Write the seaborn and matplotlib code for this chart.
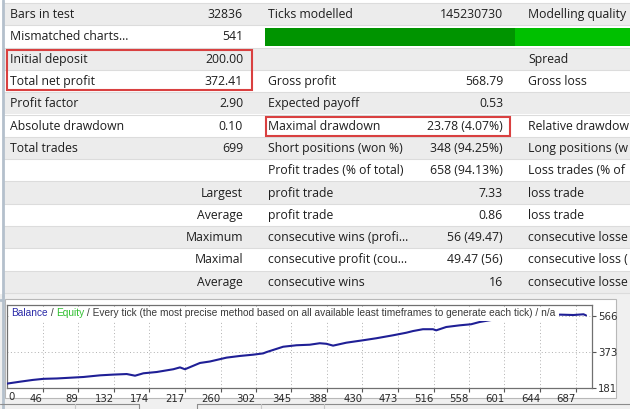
import matplotlib
matplotlib.use("Agg")
import matplotlib.pyplot as plt
from matplotlib.patches import Rectangle
import seaborn as sns
import pandas as pd

# ---------------- data ----------------
col1_labels = ["Bars in test", "Mismatched charts...", "Initial deposit", "Total net profit",
               "Profit factor", "Absolute drawdown", "Total trades", "", "Largest", "Average",
               "Maximum", "Maximal", "Average"]
col1_values = ["32836", "541", "200.00", "372.41", "2.90", "0.10", "699", "", "", "", "", "", ""]
col2_labels = ["Ticks modelled", "", "", "Gross profit", "Expected payoff", "Maximal drawdown",
               "Short positions (won %)", "Profit trades (% of total)", "profit trade", "profit trade",
               "consecutive wins (profi...", "consecutive profit (cou...", "consecutive wins"]
col2_values = ["145230730", "", "", "568.79", "0.53", "23.78 (4.07%)", "348 (94.25%)",
               "658 (94.13%)", "7.33", "0.86", "56 (49.47)", "49.47 (56)", "16"]
col3_labels = ["Modelling quality", "", "Spread", "Gross loss", "", "Relative drawdow",
               "Long positions (w", "Loss trades (% of", "loss trade", "loss trade",
               "consecutive losse", "consecutive loss (", "consecutive losse"]

trades = [0, 18, 34, 47, 63, 75, 95, 115, 131, 147, 157, 167, 183, 203, 211, 217, 235, 247,
          267, 283, 299, 311, 315, 335, 351, 367, 379, 387, 395, 411, 431, 447, 467, 483, 491,
          503, 515, 519, 531, 547, 561, 571, 585, 603, 623, 643, 668, 684, 696, 699]
balance = [200, 212, 222, 228, 230, 233, 238, 247, 251, 254, 245, 258, 265, 280, 290, 280, 314,
           322, 343, 352, 359, 366, 373, 402, 410, 413, 421, 418, 408, 424, 437, 448, 464, 478,
           487, 497, 497, 491, 509, 518, 524, 536, 547, 556, 563, 570, 576, 574, 578, 572]

x_ticks = [46, 89, 132, 174, 217, 260, 302, 345, 388, 430, 473, 516, 558, 601, 644, 687]
y_ticks = [181, 373, 566]

title_parts = ["Balance", " / ", "Equity",
               " / Every tick (the most precise method based on all available least timeframes to generate each tick) / n/a"]

# ---------------- style ----------------
sns.set_theme(style="white")
plt.rcParams["font.family"] = ["Open Sans", "DejaVu Sans"]

W, H = 630, 409
fig = plt.figure(figsize=(W / 100, H / 100), dpi=100)
fig.patch.set_facecolor("#f0f0f0")

bg = fig.add_axes([0, 0, 1, 1])
bg.set_xlim(0, W)
bg.set_ylim(H, 0)
bg.axis("off")

ROW0, RH = 3.0, 22.3
GRAY, WHITE = "#ececec", "#ffffff"
TXT = "#1e1e1e"
FS = 8.85

# table rows
bg.add_patch(Rectangle((0, 0), W, 294, facecolor="#ffffff", edgecolor="none", zorder=0))
for i in range(13):
    top = ROW0 + i * RH
    bg.add_patch(Rectangle((4, top), W - 4, RH, facecolor=GRAY if i % 2 == 0 else WHITE,
                           edgecolor="none", zorder=1))
    bg.plot([4, W], [top, top], color="#dcdcdc", lw=0.8, zorder=2)
bg.plot([4, W], [ROW0 + 13 * RH, ROW0 + 13 * RH], color="#dcdcdc", lw=0.8, zorder=2)
bg.plot([2.5, 2.5], [0, 296], color="#b4c0cc", lw=2, zorder=2)

# progress bar
bar_top = ROW0 + RH + 2.5
bg.add_patch(Rectangle((265, bar_top), 250, 18.5, facecolor="#009400", edgecolor="none", zorder=3))
bg.add_patch(Rectangle((515, bar_top), W - 515, 18.5, facecolor="#00c000", edgecolor="none", zorder=3))

for i in range(13):
    yc = ROW0 + i * RH + RH / 2 + 0.5
    if i >= 8:
        bg.text(243, yc, col1_labels[i], ha="right", va="center", fontsize=FS, color=TXT, zorder=5)
    else:
        bg.text(10, yc, col1_labels[i], ha="left", va="center", fontsize=FS, color=TXT, zorder=5)
    bg.text(243, yc, col1_values[i], ha="right", va="center", fontsize=FS, color=TXT, zorder=5)
    bg.text(268, yc, col2_labels[i], ha="left", va="center", fontsize=FS, color=TXT, zorder=5)
    bg.text(503, yc, col2_values[i], ha="right", va="center", fontsize=FS, color=TXT, zorder=5)
    bg.text(528, yc, col3_labels[i], ha="left", va="center", fontsize=FS, color=TXT, zorder=5)

# red highlight boxes
RED = "#d94040"
bg.add_patch(Rectangle((6.5, 50), 245, 40, facecolor="none", edgecolor=RED, lw=1.5, zorder=6))
bg.add_patch(Rectangle((265.5, 117), 244, 19, facecolor="none", edgecolor=RED, lw=1.5, zorder=6))

# chart panel
bg.add_patch(Rectangle((5, 298.5), 611, 99, facecolor="#ffffff", edgecolor="#b8b8b8", lw=0.8, zorder=1))
bg.plot([0, 2.5], [300, 300], color="#b4c0cc", lw=2)
bg.plot([2.5, 2.5], [296, H], color="#b4c0cc", lw=2)
# bottom tabs
for x0, x1 in [(0, 139), (197, W)]:
    bg.plot([x0, x1], [403.5, 403.5], color="#8c8c8c", lw=0.8)
for xv in [139, 197]:
    bg.plot([xv, xv], [403.5, H], color="#8c8c8c", lw=0.8)
for xv in [75, 261, 324]:
    bg.plot([xv, xv], [404, H], color="#c8c8c8", lw=0.8)

# ---------------- chart ----------------
L, R, T, B = 7.0, 591.5, 304.5, 387.5
ax = fig.add_axes([L / W, 1 - B / H, (R - L) / W, (B - T) / H])
ax.set_facecolor("white")
df = pd.DataFrame({"trade": trades, "balance": balance})
sns.lineplot(data=df, x="trade", y="balance", ax=ax, color="#1f1f96", lw=1.5, zorder=3)
ax.set_xlim(3.1, 705.6)
ax.set_ylim(181, 631)
ax.set_xlabel("")
ax.set_ylabel("")
ax.set_xticks(x_ticks)
ax.set_xticklabels([str(v) for v in x_ticks])
for lab in ax.get_xticklabels():
    lab.set_ha("right")
ax.yaxis.tick_right()
ax.set_yticks(y_ticks)
ax.set_yticklabels([str(v) for v in y_ticks])
TICKFONT = ["DejaVu Sans"]
ax.tick_params(axis="x", direction="out", length=3, width=0.8, color="#555555", pad=2,
               labelsize=7.3, labelcolor="#2a2a2a", bottom=True)
ax.tick_params(axis="y", direction="out", length=3, width=0.8, color="#555555", pad=1.5,
               labelsize=7.3, labelcolor="#2a2a2a", right=True, left=False)
for lab in ax.get_xticklabels() + ax.get_yticklabels():
    lab.set_family(TICKFONT)
ax.annotate("0", xy=(0, 0), xycoords="axes fraction", xytext=(1, -3), textcoords="offset points",
            ha="left", va="top", fontsize=7.3, color="#2a2a2a", family=TICKFONT)
ax.grid(True, linestyle=(0, (1, 2.5)), color="#b0b0b0", lw=0.7)
for s in ax.spines.values():
    s.set_color("#707070")
    s.set_linewidth(0.9)

# title with coloured parts over one white strip (hides the line under it); fitted to 11..557 px
colors = ["#2a2aa8", "#3a3a3a", "#2fbf2f", "#3a3a3a"]
TFONT = ["Liberation Sans", "DejaVu Sans"]
fig.canvas.draw()
rend = fig.canvas.get_renderer()
probe = fig.text(0, 0, "".join(title_parts), fontsize=8, family=TFONT)
tw = probe.get_window_extent(renderer=rend).width
probe.remove()
tfs = 8 * 546.0 / tw
strip = Rectangle((9 / W, 1 - 320.5 / H), 550 / W, 14 / H, transform=fig.transFigure,
                  facecolor="white", edgecolor="none", zorder=5)
fig.add_artist(strip)
xpix = 11.0
ypix = 313.5
for txt, col in zip(title_parts, colors):
    t = fig.text(xpix / W, 1 - ypix / H, txt, ha="left", va="center", fontsize=tfs, color=col,
                 family=TFONT, zorder=10)
    ext = t.get_window_extent(renderer=rend)
    xpix += ext.width

fig.savefig("out.png", dpi=100, facecolor=fig.get_facecolor())
